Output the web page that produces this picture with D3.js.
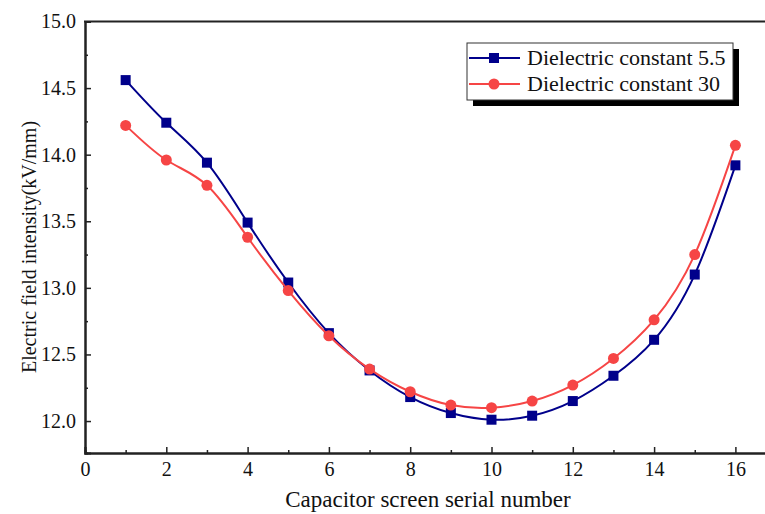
<!DOCTYPE html>
<html>
<head>
<meta charset="utf-8">
<script src="https://cdn.jsdelivr.net/npm/d3@7"></script>
<style>
  body { margin: 0; background: #fff; }
</style>
</head>
<body>
<div id="graph"></div>
<script>
// serial number of each capacitor screen
var screens = [1, 2, 3, 4, 5, 6, 7, 8, 9, 10, 11, 12, 13, 14, 15, 16]

// field intensity kV/mm
var eps55 = [14.56, 14.24, 13.94, 13.49, 13.04, 12.66, 12.38, 12.18, 12.06, 12.01, 12.04, 12.15, 12.34, 12.61, 13.10, 13.92]
var eps30 = [14.22, 13.96, 13.77, 13.38, 12.98, 12.64, 12.39, 12.22, 12.12, 12.10, 12.15, 12.27, 12.47, 12.76, 13.25, 14.07]

var seriesNames = ['Dielectric constant 5.5', 'Dielectric constant 30']
var xTicks = [0, 2, 4, 6, 8, 10, 12, 14, 16]
var yTicks = [12.0, 12.5, 13.0, 13.5, 14.0, 14.5, 15.0]

var FONT = '"Liberation Serif", "Times New Roman", serif'

var W = 765, H = 514
var m = {top: 21.5, left: 85, bottom: 61}

var svg = d3.select('#graph').append('svg')
  .attr('width', W).attr('height', H)

var x = d3.scaleLinear().domain([0, 17]).range([m.left, m.left + 17 * 40.65])
var y = d3.scaleLinear().domain([11.76, 15]).range([H - m.bottom, m.top])

var blue = '#00008b', red = '#f64545'

var series = [
  {name: seriesNames[0], vals: eps55, color: blue, shape: 'square'},
  {name: seriesNames[1], vals: eps30, color: red, shape: 'circle'}
]

// axes, ticks pointing inward
var gx = svg.append('g').attr('transform', 'translate(0,' + (H - m.bottom) + ')')
gx.call(d3.axisBottom(x).tickValues(d3.range(1, 17, 2)).tickSize(-3).tickFormat(''))
gx.append('g').call(d3.axisBottom(x).tickValues(xTicks).tickSize(-6).tickPadding(9).tickFormat(d3.format('d')))

var gy = svg.append('g').attr('transform', 'translate(' + m.left + ',0)')
gy.call(d3.axisLeft(y).tickValues(d3.range(12.25, 15, 0.5)).tickSize(-3).tickFormat(''))
gy.append('g').call(d3.axisLeft(y).tickValues(yTicks).tickSize(-6).tickPadding(9).tickFormat(d3.format('.1f')))

svg.selectAll('.domain').attr('stroke', '#222').attr('stroke-width', 2)
svg.selectAll('.tick line').attr('stroke', '#222').attr('stroke-width', 1.5)
svg.selectAll('.tick text')
  .attr('font-family', FONT).style('font-family', FONT)
  .style('font-size', '20px').attr('fill', '#111')

// top frame line
svg.append('line')
  .attr('x1', m.left - 1).attr('x2', W)
  .attr('y1', y(15)).attr('y2', y(15))
  .attr('stroke', '#222').attr('stroke-width', 2)

// axis titles
svg.append('text')
  .attr('x', 428).attr('y', 507)
  .attr('text-anchor', 'middle')
  .style('font-family', FONT).style('font-size', '23px').attr('fill', '#111')
  .text('Capacitor screen serial number')

svg.append('text')
  .attr('transform', 'translate(36,247) rotate(-90)')
  .attr('text-anchor', 'middle')
  .style('font-family', FONT).style('font-size', '20px').attr('fill', '#111')
  .text('Electric field intensity(kV/mm)')

var line = d3.line()
  .x((d, i) => x(screens[i]))
  .y(d => y(d))
  .curve(d3.curveNatural)

function drawMarker(sel, shape, color){
  if (shape == 'square') {
    sel.append('rect')
      .attr('x', -5).attr('y', -5).attr('width', 10).attr('height', 10)
      .attr('fill', color)
  } else {
    sel.append('circle').attr('r', 5.5).attr('fill', color)
  }
}

series.forEach(s => {
  svg.append('path')
    .attr('d', line(s.vals))
    .attr('fill', 'none')
    .attr('stroke', s.color)
    .attr('stroke-width', 2)

  svg.selectAll(null).data(s.vals).enter().append('g')
    .attr('transform', (d, i) => 'translate(' + x(screens[i]) + ',' + y(d) + ')')
    .each(function(){ drawMarker(d3.select(this), s.shape, s.color) })
})

// legend with drop shadow
var lg = svg.append('g').attr('transform', 'translate(467,43)')
lg.append('rect').attr('x', 6).attr('y', 6).attr('width', 266).attr('height', 57).attr('fill', '#000')
lg.append('rect').attr('width', 266).attr('height', 57).attr('fill', '#fff').attr('stroke', '#333').attr('stroke-width', 1)

series.forEach((s, i) => {
  var row = lg.append('g').attr('transform', 'translate(0,' + (15 + i * 26) + ')')
  row.append('line').attr('x1', 2).attr('x2', 53).attr('stroke', s.color).attr('stroke-width', 2)
  drawMarker(row.append('g').attr('transform', 'translate(27,0)'), s.shape, s.color)
  row.append('text')
    .attr('x', 60).attr('y', 7)
    .style('font-family', FONT).style('font-size', '22px').attr('fill', '#111')
    .text(s.name)
})
</script>
</body>
</html>
